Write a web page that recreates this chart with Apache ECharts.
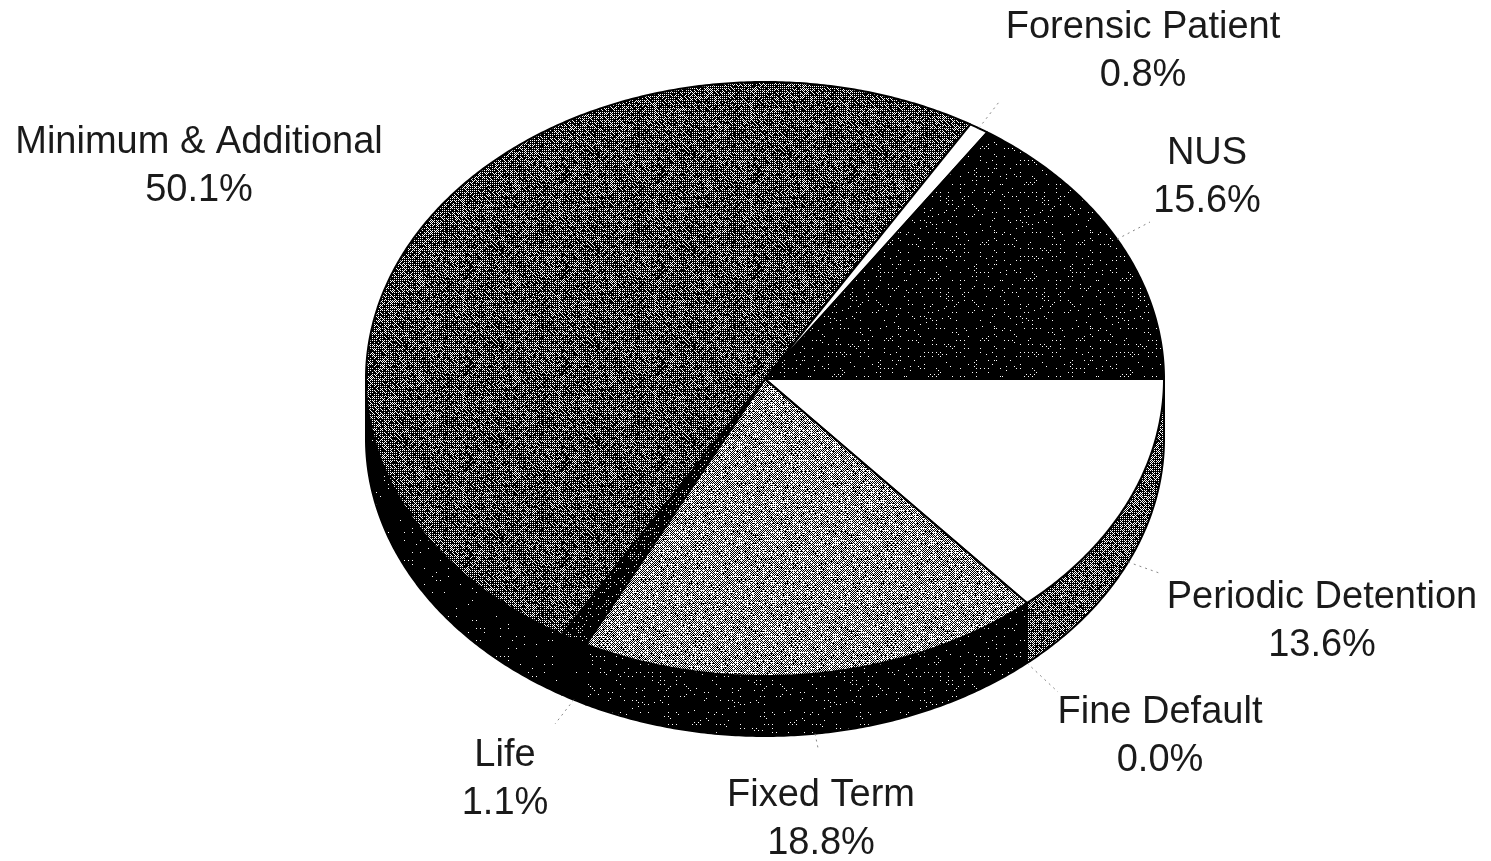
<!DOCTYPE html>
<html>
<head>
<meta charset="utf-8">
<style>html,body{margin:0;padding:0;background:#fff}#chart{width:1491px;height:861px}</style>
<script src="https://cdn.jsdelivr.net/npm/echarts@6/dist/echarts.min.js"></script>
</head>
<body>
<div id="chart"></div>
<script>
// Data, clockwise from the 3 o'clock direction
const categories = ['Periodic Detention', 'Fine Default', 'Fixed Term', 'Life', 'Minimum & Additional', 'Forensic Patient', 'NUS'];
const shares = [13.6, 0.0, 18.8, 1.1, 50.1, 0.8, 15.6];

// Styling: share of white ink in each dithered fill
const topInk = [1, 1, 0.54, 0.17, 0.34, 1, 0.1];
const wallInk = [0.38, 0.38, 0.09, 0.01, 0.05, 0.01, 0.01];
// Layout
const labelCentres = [[1322, 622], [1160, 737], [821, 820], [505, 780], [199, 167], [1143, 52], [1207, 178]];
const leaderEnds = [[1162, 574], [1058, 692], [818, 748], [555, 724], null, [999, 102], [1150, 222]];
const pie = { cx: 765, cy: 379, rx: 399, ry: 297, depth: 60 };

const bayer = [
  [0, 32, 8, 40, 2, 34, 10, 42], [48, 16, 56, 24, 50, 18, 58, 26],
  [12, 44, 4, 36, 14, 46, 6, 38], [60, 28, 52, 20, 62, 30, 54, 22],
  [3, 35, 11, 43, 1, 33, 9, 41], [51, 19, 59, 27, 49, 17, 57, 25],
  [15, 47, 7, 39, 13, 45, 5, 37], [63, 31, 55, 23, 61, 29, 53, 21]
];
// fixed pixel hash: gives the scanned print its grain, no randomness involved
function grain(x, y) {
  const s = Math.sin(x * 12.9898 + y * 78.233) * 43758.5453;
  return s - Math.floor(s);
}
function ditherFill(ink) {
  if (ink >= 1) return '#ffffff';
  const size = 96;
  const c = document.createElement('canvas');
  c.width = c.height = size;
  const g = c.getContext('2d');
  for (let y = 0; y < size; y++) for (let x = 0; x < size; x++) {
    const t = (bayer[y % 8][x % 8] + 0.5) / 64 * 0.7 + grain(x, y) * 0.3;
    g.fillStyle = t < ink ? '#ffffff' : '#000000';
    g.fillRect(x, y, 1, 1);
  }
  return { image: c, repeat: 'repeat' };
}
const topFills = topInk.map(ditherFill);
const wallFills = wallInk.map(ditherFill);

const total = shares.reduce((a, b) => a + b, 0);
const starts = [];
shares.reduce((acc, v, i) => { starts[i] = acc; return acc + v; }, 0);

function edge(deg, dy) {
  const a = deg * Math.PI / 180;
  return [pie.cx + pie.rx * Math.cos(a), pie.cy + pie.ry * Math.sin(a) + (dy || 0)];
}
function arc(from, to, dy) {
  const pts = [], n = Math.max(2, Math.ceil((to - from) / 0.5));
  for (let i = 0; i <= n; i++) pts.push(edge(from + (to - from) * i / n, dy));
  return pts;
}
const outline = { stroke: '#000', lineWidth: 2, lineJoin: 'round' };

function renderItem(params, api) {
  const i = params.dataIndex;
  const value = api.value(0);
  const from = starts[i] / total * 360;
  const to = from + value / total * 360;
  const children = [];

  // side wall: only the front half of the disc shows
  const wFrom = Math.max(from, 0), wTo = Math.min(to, 180);
  if (value > 0 && wTo > wFrom) {
    const upper = arc(wFrom, wTo, 0);
    const lower = arc(wFrom, wTo, pie.depth).reverse();
    children.push({
      type: 'polygon', shape: { points: upper.concat(lower) },
      style: Object.assign({ fill: wallFills[i] }, outline)
    });
  }
  // top face
  if (value > 0) {
    children.push({
      type: 'polygon', shape: { points: [[pie.cx, pie.cy]].concat(arc(from, to, 0)) },
      style: Object.assign({ fill: topFills[i] }, outline)
    });
  }
  // faint dotted leader
  const end = leaderEnds[i];
  if (end) {
    const mid = (from + to) / 2;
    const s = edge(mid, mid < 180 ? pie.depth : 0);
    children.push({
      type: 'line', shape: { x1: s[0], y1: s[1], x2: end[0], y2: end[1] },
      style: { stroke: '#888', lineWidth: 1, lineDash: [2, 4] }
    });
  }
  // label
  children.push({
    type: 'text',
    style: {
      text: categories[i] + '\n' + value.toFixed(1) + '%',
      x: labelCentres[i][0], y: labelCentres[i][1],
      align: 'center', verticalAlign: 'middle',
      font: '38px "Liberation Sans", Arial, sans-serif',
      lineHeight: 48, fill: '#1a1a1a'
    }
  });
  return { type: 'group', children };
}

const chart = echarts.init(document.getElementById('chart'), null, { renderer: 'canvas' });
chart.setOption({
  backgroundColor: '#ffffff',
  animation: false,
  tooltip: { show: false },
  series: [{
    type: 'custom',
    coordinateSystem: 'none',
    silent: true,
    clip: false,
    renderItem,
    data: shares.map((v, i) => ({ name: categories[i], value: [v] }))
  }]
});
</script>
</body>
</html>
